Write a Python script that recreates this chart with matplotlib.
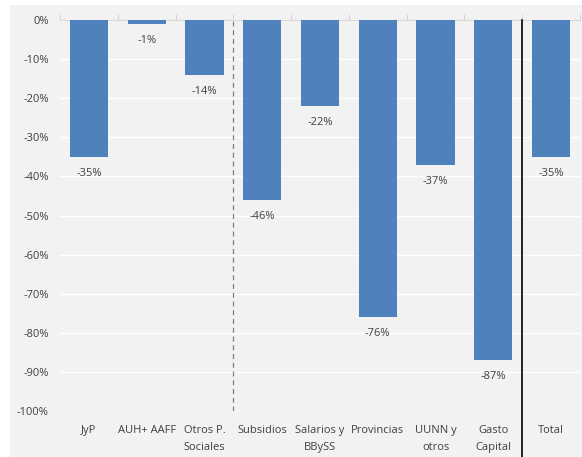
import numpy as np
import matplotlib.pyplot as plt
from matplotlib.patches import Rectangle
from matplotlib.ticker import FuncFormatter, FixedLocator

categorias = ['JyP', 'AUH+ AAFF', 'Otros P.\nSociales', 'Subsidios', 'Salarios y\nBBySS',
              'Provincias', 'UUNN y\notros', 'Gasto\nCapital', 'Total']
variacion = [-35, -1, -14, -46, -22, -76, -37, -87, -35]
etiquetas = ['-35%', '-1%', '-14%', '-46%', '-22%', '-76%', '-37%', '-87%', '-35%']

plt.rcParams['font.family'] = ['Open Sans', 'DejaVu Sans']

fondo = '#f2f2f2'
azul = '#4f81bd'

fig = plt.figure(figsize=(5.82, 4.57), dpi=100)
fig.patches.append(Rectangle((10 / 582, 0), 1, 1 - 5 / 457, transform=fig.transFigure,
                             facecolor=fondo, edgecolor='none', zorder=-5))
ax = fig.add_axes([60 / 582, 1 - 411 / 457, 520 / 582, 391 / 457])
ax.set_zorder(1)
ax.set_facecolor(fondo)

x = np.arange(len(categorias))
barras = ax.bar(x, variacion, width=0.66, color=azul, zorder=3)

for xi, v, t in zip(x, variacion, etiquetas):
    ax.annotate(t, (xi, v), xytext=(0, -8), textcoords='offset points',
                ha='center', va='top', fontsize=8, color='#404040')

ax.set_xlim(-0.5, len(categorias) - 0.5)
ax.set_ylim(-100, 0)
ax.set_yticks(np.arange(-100, 1, 10))
ax.yaxis.set_major_formatter(FuncFormatter(lambda v, p: f'{int(v)}%'))
ax.grid(axis='y', color='white', linewidth=1, zorder=1)

ax.set_xticks(x)
ax.set_xticklabels(categorias, fontsize=8, color='#404040', linespacing=1.8)
ax.xaxis.set_minor_locator(FixedLocator(np.arange(-0.5, len(categorias), 1)))
ax.tick_params(axis='x', which='major', length=0, pad=10)
ax.tick_params(axis='x', which='minor', top=True, bottom=False, length=4,
               color='#d0d0d0', direction='out')
ax.tick_params(axis='y', length=0, labelsize=8, labelcolor='#404040', pad=8)

for s in ['left', 'right', 'bottom']:
    ax.spines[s].set_visible(False)
ax.spines['top'].set_color('#d9d9d9')

ax.axvline(2.5, color='#7f7f7f', linestyle=(0, (4, 3)), linewidth=0.9, zorder=2)
ax.axvline(7.5, ymin=-0.12, ymax=1, color='black', linewidth=1.2, zorder=4, clip_on=False)

fig.savefig('out.png', dpi=100)
